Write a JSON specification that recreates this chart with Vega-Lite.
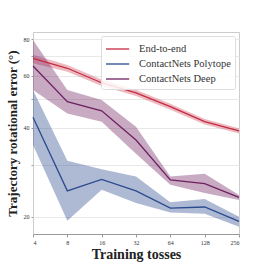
{
  "$schema": "https://vega.github.io/schema/vega-lite/v6.json",
  "width": 206,
  "height": 202,
  "autosize": "none",
  "padding": {"left": 33, "top": 32, "right": 27, "bottom": 32},
  "background": "white",
  "config": {
    "font": "Liberation Serif",
    "view": {"stroke": "#cccccc", "strokeWidth": 1}
  },
  "data": {
    "values": [
      {"method": "End-to-end", "tosses": 4, "mean": 68.8, "lo": 66.2, "hi": 70.8},
      {"method": "End-to-end", "tosses": 8, "mean": 63.7, "lo": 62.0, "hi": 65.3},
      {"method": "End-to-end", "tosses": 16, "mean": 56.9, "lo": 55.5, "hi": 58.3},
      {"method": "End-to-end", "tosses": 32, "mean": 52.6, "lo": 51.3, "hi": 53.9},
      {"method": "End-to-end", "tosses": 64, "mean": 47.2, "lo": 46.1, "hi": 48.3},
      {"method": "End-to-end", "tosses": 128, "mean": 42.0, "lo": 41.1, "hi": 42.9},
      {"method": "End-to-end", "tosses": 256, "mean": 39.1, "lo": 38.3, "hi": 39.9},
      {"method": "ContactNets Polytope", "tosses": 4, "mean": 43.5, "lo": 35.0, "hi": 53.8},
      {"method": "ContactNets Polytope", "tosses": 8, "mean": 24.5, "lo": 19.4, "hi": 31.0},
      {"method": "ContactNets Polytope", "tosses": 16, "mean": 26.8, "lo": 24.7, "hi": 29.0},
      {"method": "ContactNets Polytope", "tosses": 32, "mean": 24.5, "lo": 22.3, "hi": 27.4},
      {"method": "ContactNets Polytope", "tosses": 64, "mean": 21.4, "lo": 20.7, "hi": 22.4},
      {"method": "ContactNets Polytope", "tosses": 128, "mean": 21.6, "lo": 20.5, "hi": 23.0},
      {"method": "ContactNets Polytope", "tosses": 256, "mean": 19.3, "lo": 18.5, "hi": 20.0},
      {"method": "ContactNets Deep", "tosses": 4, "mean": 64.8, "lo": 53.8, "hi": 79.4},
      {"method": "ContactNets Deep", "tosses": 8, "mean": 49.1, "lo": 44.8, "hi": 53.8},
      {"method": "ContactNets Deep", "tosses": 16, "mean": 45.7, "lo": 42.0, "hi": 49.7},
      {"method": "ContactNets Deep", "tosses": 32, "mean": 36.4, "lo": 32.7, "hi": 40.4},
      {"method": "ContactNets Deep", "tosses": 64, "mean": 26.7, "lo": 25.7, "hi": 27.4},
      {"method": "ContactNets Deep", "tosses": 128, "mean": 25.9, "lo": 24.1, "hi": 28.0},
      {"method": "ContactNets Deep", "tosses": 256, "mean": 23.3, "lo": 22.8, "hi": 23.7}
    ]
  },
  "encoding": {
    "x": {
      "field": "tosses", "type": "quantitative",
      "scale": {"type": "log", "base": 2, "domain": [4, 256], "nice": false},
      "axis": {
        "values": [4, 8, 16, 32, 64, 128, 256],
        "grid": false, "title": "Training tosses",
        "titleFont": "Liberation Serif", "titleFontSize": 14, "titleFontWeight": "bold",
        "titleColor": "#222", "titlePadding": 2,
        "labelFontSize": 6, "labelColor": "#333", "labelPadding": 2,
        "tickSize": 3, "tickColor": "#999", "domainColor": "#999"
      }
    },
    "y": {
      "field": "mean", "type": "quantitative",
      "scale": {"type": "log", "domain": [17.5, 84.5], "nice": false},
      "axis": {
        "values": [20, 30, 40, 50, 60, 70, 80],
        "labelExpr": "datum.value % 20 == 0 ? datum.label : ''",
        "grid": true, "gridColor": "#e8e8e8",
        "title": "Trajectory rotational error (°)",
        "titleFont": "Liberation Serif", "titleFontSize": 13, "titleFontWeight": "bold",
        "titleColor": "#222", "titlePadding": 4,
        "labelFontSize": 6, "labelColor": "#333", "labelPadding": 2,
        "tickSize": 2, "tickColor": "#999", "domainColor": "#cccccc"
      }
    }
  },
  "resolve": {"scale": {"fill": "independent", "stroke": "independent"}, "legend": {"fill": "independent", "stroke": "independent"}},
  "layer": [
    {
      "mark": {"type": "area", "opacity": 0.38},
      "encoding": {
        "y": {"field": "lo", "type": "quantitative"},
        "y2": {"field": "hi"},
        "fill": {
          "field": "method", "type": "nominal", "legend": null,
          "scale": {"domain": ["End-to-end", "ContactNets Polytope", "ContactNets Deep"], "range": ["#d04a5c", "#2b4a8e", "#6e2060"]}
        }
      }
    },
    {
      "mark": {"type": "line", "strokeWidth": 1.3},
      "encoding": {
        "stroke": {
          "field": "method", "type": "nominal",
          "scale": {"domain": ["End-to-end", "ContactNets Polytope", "ContactNets Deep"], "range": ["#c42a40", "#2b4a8e", "#6e2060"]},
          "legend": {
            "title": null, "orient": "top-right", "offset": 4,
            "symbolType": "M-1,0H1.9", "symbolSize": 256, "symbolStrokeWidth": 1.3,
            "labelFont": "Liberation Serif", "labelFontSize": 10.5, "labelColor": "#333",
            "labelOffset": 16,
            "rowPadding": 0, "fillColor": "rgba(255,255,255,0.85)", "strokeColor": "#dddddd",
            "padding": 4, "cornerRadius": 2
          }
        }
      }
    }
  ]
}
